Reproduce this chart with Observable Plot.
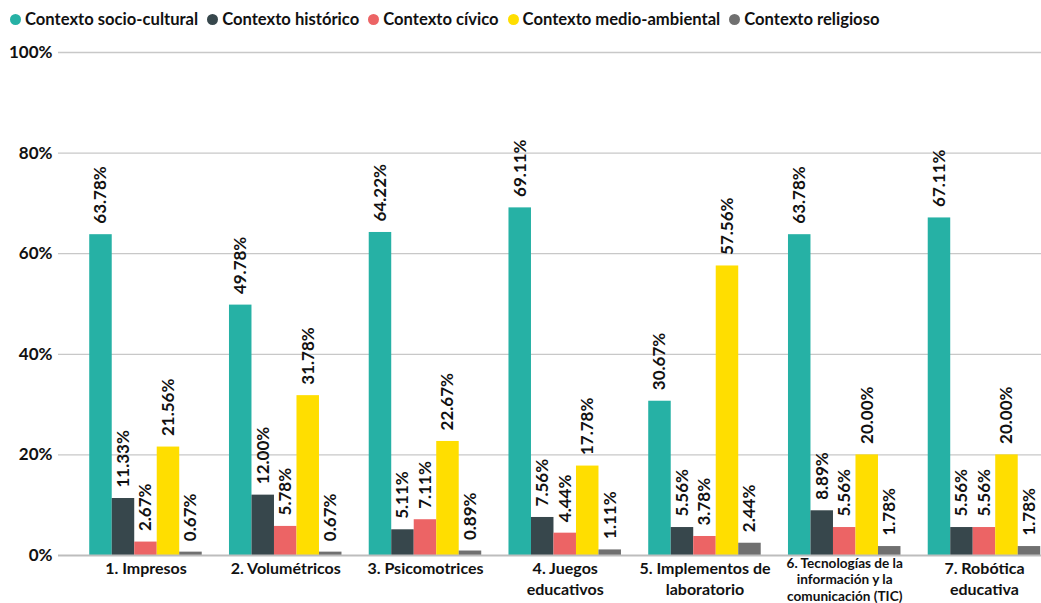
<!DOCTYPE html>
<html>
<head>
<meta charset="utf-8">
<script src="https://cdn.jsdelivr.net/npm/d3@7"></script>
<script src="https://cdn.jsdelivr.net/npm/@observablehq/plot@0.6"></script>
<style>
  html, body { margin: 0; padding: 0; background: #fff; overflow: hidden; }
  body { font-family: Lato, "Open Sans", sans-serif; width: 1041px; height: 603px; }
  #legend { height: 38px; display: flex; align-items: center; padding-left: 10px; box-sizing: border-box; font-weight: bold; font-size: 16.6px; color: #111; }
  .item { display: flex; align-items: center; margin-right: 9px; white-space: nowrap; }
  .dot { width: 11px; height: 11px; border-radius: 50%; margin-right: 4px; }
  svg { display: block; }
</style>
</head>
<body>
<div id="legend"></div>
<div id="chart"></div>
<script>
const categories = [
  "1. Impresos",
  "2. Volumétricos",
  "3. Psicomotrices",
  "4. Juegos\neducativos",
  "5. Implementos de\nlaboratorio",
  "6. Tecnologías de la\ninformación y la\ncomunicación (TIC)",
  "7. Robótica\neducativa"
];
const seriesNames = [
  "Contexto socio-cultural",
  "Contexto histórico",
  "Contexto cívico",
  "Contexto medio-ambiental",
  "Contexto religioso"
];
const seriesColors = ["#26B1A5", "#37474C", "#EC6465", "#FFDE00", "#707070"];
const socioCultural   = [63.78, 49.78, 64.22, 69.11, 30.67, 63.78, 67.11];
const historico       = [11.33, 12.00,  5.11,  7.56,  5.56,  8.89,  5.56];
const civico          = [ 2.67,  5.78,  7.11,  4.44,  3.78,  5.56,  5.56];
const medioAmbiental  = [21.56, 31.78, 22.67, 17.78, 57.56, 20.00, 20.00];
const religioso       = [ 0.67,  0.67,  0.89,  1.11,  2.44,  1.78,  1.78];
const yTicks = [0, 20, 40, 60, 80, 100];

const seriesValues = [socioCultural, historico, civico, medioAmbiental, religioso];

// legend
const legend = document.getElementById("legend");
seriesNames.forEach((n, i) => {
  const it = document.createElement("div");
  it.className = "item";
  const d = document.createElement("span");
  d.className = "dot";
  d.style.background = seriesColors[i];
  it.appendChild(d);
  it.appendChild(document.createTextNode(n));
  legend.appendChild(it);
});

const W = 1041, H = 565;
const bandStart = 75.6, step = 139.75;
const barW = 22.5;
const innerPad = (step - 5 * barW) / 2;

const rows = categories.map((c, j) => ({category: c, idx: j}));

const marks = [
  Plot.ruleY(yTicks.filter(t => t > 0), {stroke: "#c8c8c8", strokeWidth: 1.3})
];
seriesValues.forEach((vals, i) => {
  const data = categories.map((c, j) => ({category: c, value: vals[j]}));
  marks.push(Plot.barY(data, {
    x: "category", y: "value", fill: seriesColors[i],
    insetLeft: innerPad + barW * i,
    insetRight: step - innerPad - barW * (i + 1)
  }));
  marks.push(Plot.text(data, {
    x: "category", y: "value",
    text: d => d.value.toFixed(2) + "%",
    rotate: -90, textAnchor: "start", lineAnchor: "middle",
    dx: (i - 2) * barW, dy: -11,
    fontSize: 17, fontWeight: "bold", fill: "#111"
  }));
});
marks.push(Plot.ruleY([0], {stroke: "#bdbdbd", strokeWidth: 2}));
// category labels
marks.push(Plot.text(rows.filter(r => r.idx !== 5), {
  x: "category", y: 0, text: "category",
  lineAnchor: "top", dy: 4, lineHeight: 1.3,
  fontSize: 16, fontWeight: "bold", fill: "#111"
}));
marks.push(Plot.text(rows.filter(r => r.idx === 5), {
  x: "category", y: 0, text: "category",
  lineAnchor: "top", dy: 1, lineHeight: 1.2,
  fontSize: 13.6, fontWeight: "bold", fill: "#111"
}));

const chart = Plot.plot({
  width: W, height: H,
  marginLeft: 58, marginRight: 0, marginTop: 14, marginBottom: 48,
  style: {fontFamily: "Lato, 'Open Sans', sans-serif", fontSize: "17px", fontWeight: "bold", color: "#111", background: "#fff"},
  x: {domain: categories, range: [bandStart, bandStart + step * 7], padding: 0, round: false, axis: null},
  y: {domain: [0, 100], ticks: yTicks, tickFormat: d => d + "%", tickSize: 0, tickPadding: 6, label: null},
  marks
});
document.getElementById("chart").appendChild(chart);
</script>
</body>
</html>
